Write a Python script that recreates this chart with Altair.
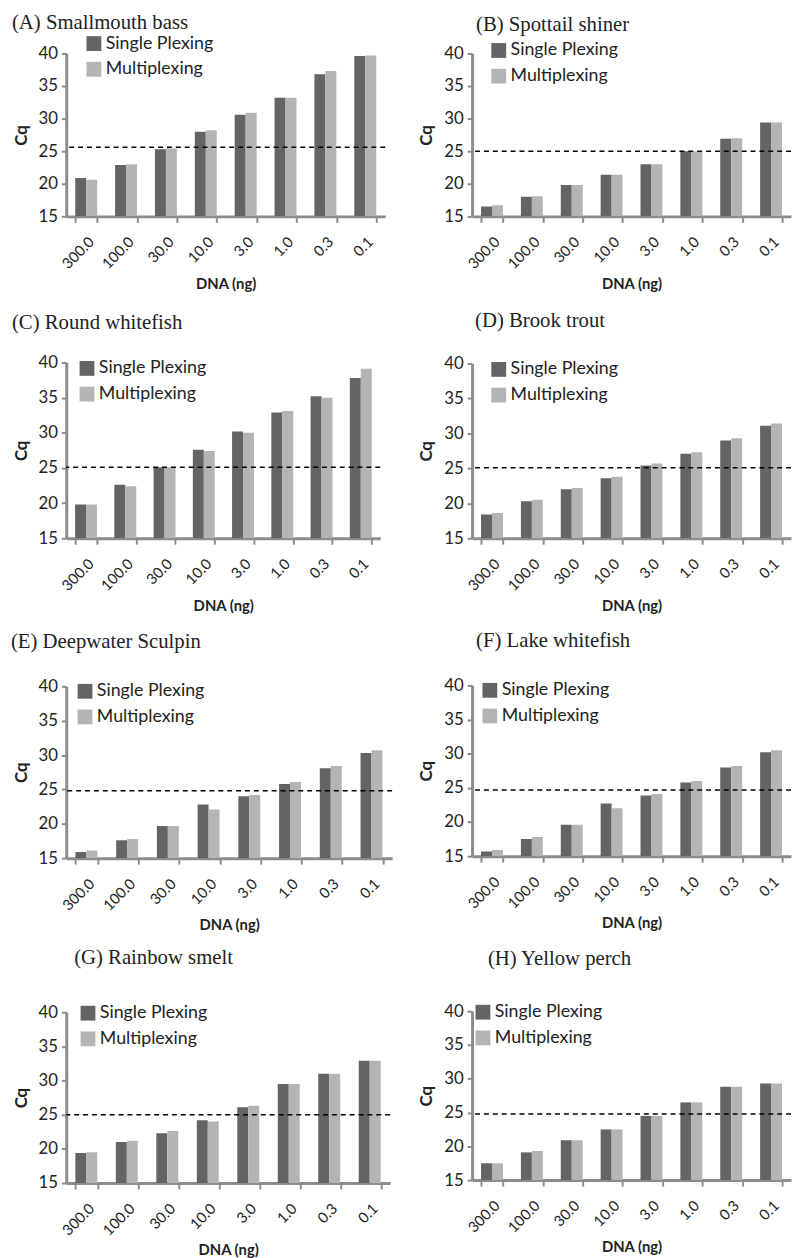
import altair as alt
import pandas as pd

dna = ["300.0", "100.0", "30.0", "10.0", "3.0", "1.0", "0.3", "0.1"]
series = ["Single Plexing", "Multiplexing"]
colors = ["#646464", "#b4b4b4"]
titles = ["(A) Smallmouth bass", "(B) Spottail shiner", "(C) Round whitefish", "(D) Brook trout",
          "(E) Deepwater Sculpin", "(F) Lake whitefish", "(G) Rainbow smelt", "(H) Yellow perch"]

single_A = [20.9, 22.9, 25.3, 28.0, 30.6, 33.2, 36.8, 39.6]
multi_A = [20.6, 23.0, 25.4, 28.2, 30.9, 33.2, 37.3, 39.7]
single_B = [16.5, 18.0, 19.8, 21.4, 23.0, 25.0, 26.9, 29.4]
multi_B = [16.7, 18.1, 19.8, 21.4, 23.0, 25.0, 27.0, 29.4]
single_C = [19.8, 22.6, 25.1, 27.6, 30.2, 32.9, 35.2, 37.8]
multi_C = [19.8, 22.4, 25.1, 27.4, 30.0, 33.1, 35.0, 39.1]
single_D = [18.4, 20.3, 22.0, 23.6, 25.4, 27.1, 29.0, 31.1]
multi_D = [18.6, 20.5, 22.2, 23.8, 25.7, 27.3, 29.3, 31.4]
single_E = [15.9, 17.6, 19.7, 22.8, 24.0, 25.8, 28.1, 30.3]
multi_E = [16.1, 17.8, 19.7, 22.1, 24.2, 26.1, 28.4, 30.7]
single_F = [15.7, 17.5, 19.6, 22.7, 23.9, 25.8, 28.0, 30.2]
multi_F = [15.9, 17.8, 19.6, 22.0, 24.1, 26.0, 28.2, 30.5]
single_G = [19.4, 21.0, 22.3, 24.2, 26.1, 29.5, 31.0, 32.9]
multi_G = [19.5, 21.2, 22.6, 24.0, 26.3, 29.5, 31.0, 32.9]
single_H = [17.5, 19.1, 20.9, 22.5, 24.5, 26.5, 28.8, 29.3]
multi_H = [17.5, 19.3, 20.9, 22.5, 24.5, 26.5, 28.8, 29.3]

thresholds = [25.6, 25.0, 25.1, 25.1, 24.8, 24.7, 25.0, 24.8]
y_min, y_max = 15, 40
y_ticks = [15, 20, 25, 30, 35, 40]

singles = [single_A, single_B, single_C, single_D, single_E, single_F, single_G, single_H]
multis = [multi_A, multi_B, multi_C, multi_D, multi_E, multi_F, multi_G, multi_H]

# layout per panel: width, height, title dx, title offset, legendX, legendY
layout = [
    (323, 165, -55, 2, 19, -19),
    (323, 165, 4, 7, 18, -12),
    (318, 178, -55, 21, 12, -3),
    (323, 177, 3, 24, 18, -3),
    (330, 174, -56, 26, 10, -4),
    (323, 173, 4, 26, 9, -4),
    (328, 173, 8, 36, 13, -8),
    (323, 171, 16, 34, 2, -8),
]

AX = "#8c8c8c"


def panel(i):
    w, h, tdx, toff, lx, ly = layout[i]
    df = pd.DataFrame({
        "DNA": dna * 2,
        "Series": [s for s in series for _ in dna],
        "Cq": singles[i] + multis[i],
    })
    yaxis = alt.Axis(values=y_ticks, labelFontSize=17, labelOverlap=False,
                     tickSize=5, tickWidth=2, tickColor=AX, domainColor=AX,
                     domainWidth=3, grid=False, labelPadding=4,
                     titleFontSize=17, titleFontWeight="bold", titlePadding=8)
    bars = alt.Chart(df).mark_bar(clip=True).encode(
        x=alt.X("DNA:N", sort=dna, title="DNA (ng)",
                scale=alt.Scale(paddingInner=0.45, paddingOuter=0.225),
                axis=alt.Axis(labelAngle=-45, labelAlign="right", labelBaseline="top",
                              labelFontSize=15, labelPadding=12, tickBand="extent",
                              tickSize=6, tickWidth=2, tickColor=AX,
                              domainColor=AX, domainWidth=3, labelOverlap=False,
                              titleFontSize=15, titleFontWeight="bold", titlePadding=5)),
        xOffset=alt.XOffset("Series:N", sort=series, scale=alt.Scale(paddingInner=0, paddingOuter=0)),
        y=alt.Y("Cq:Q", title="Cq",
                scale=alt.Scale(domain=[y_min, y_max], nice=False, zero=False),
                axis=yaxis),
        y2=alt.Y2(datum=y_min),
        color=alt.Color("Series:N", sort=series,
                        scale=alt.Scale(domain=series, range=colors),
                        legend=alt.Legend(title=None, orient="none", legendX=lx, legendY=ly,
                                          symbolType="square", symbolSize=225,
                                          symbolStrokeWidth=0, labelFontSize=18,
                                          labelFont="Lato", labelColor="#222",
                                          rowPadding=8, labelOffset=3)),
    )
    rule = alt.Chart(pd.DataFrame({"thr": [thresholds[i]]})).mark_rule(
        color="black", strokeDash=[5, 4], strokeWidth=1.5
    ).encode(y=alt.Y("thr:Q", title="Cq", axis=yaxis))
    return alt.layer(bars, rule).properties(
        width=w, height=h,
        title=alt.TitleParams(titles[i], anchor="start", frame="group", dx=tdx, offset=toff,
                              font="Liberation Serif", fontSize=21, fontWeight="normal",
                              color="#222"),
    )


def ind(c):
    return c.resolve_scale(color="independent").resolve_legend(color="independent")


left = ind(alt.vconcat(panel(0), ind(alt.vconcat(panel(2), ind(alt.vconcat(panel(4), panel(6), spacing=14)), spacing=18)), spacing=21))
right = ind(alt.vconcat(panel(1), ind(alt.vconcat(panel(3), ind(alt.vconcat(panel(5), panel(7), spacing=17)), spacing=17)), spacing=19))

chart = ind(alt.hconcat(left, right, spacing=25)).properties(
    background="white", padding={"left": 3, "top": -4, "right": 0, "bottom": 0}).configure_view(
    strokeWidth=0, stroke="transparent").configure_axis(
    labelFont="Lato", titleFont="Lato", labelColor="#222", titleColor="#222",
    labelOverlap=False)

chart.save("out.html", embed_options={"renderer": "svg", "actions": False})
